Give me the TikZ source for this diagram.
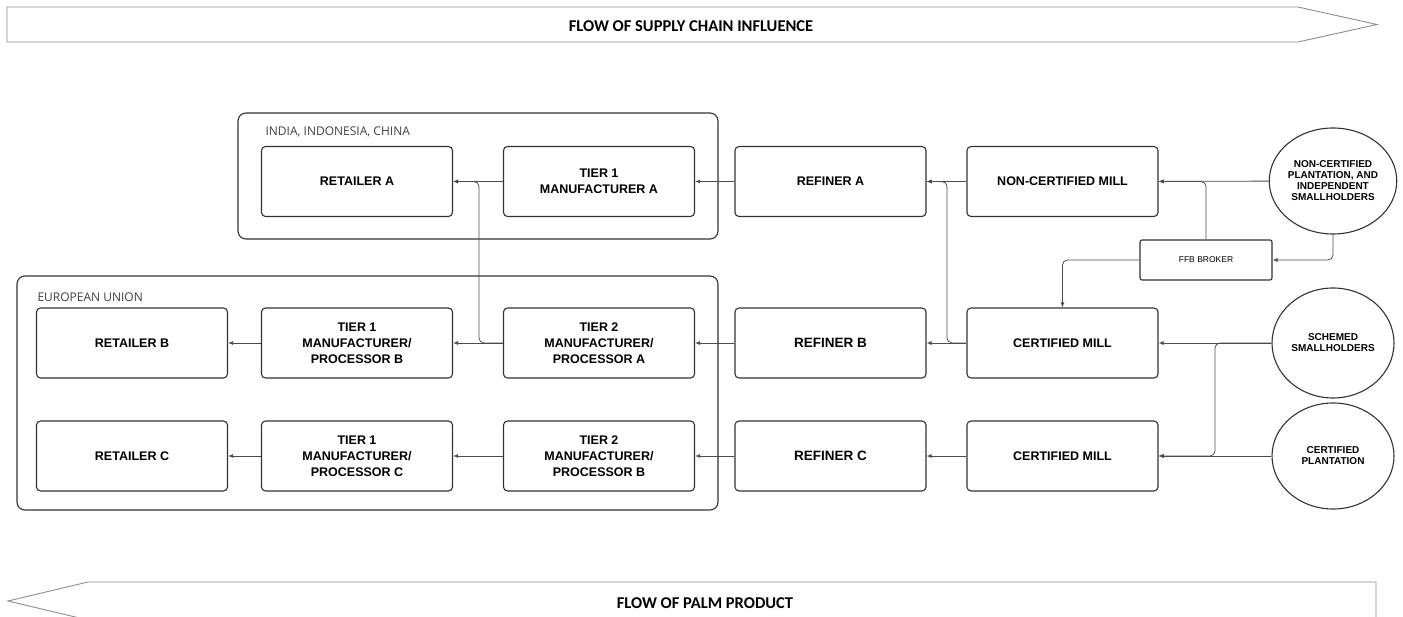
\documentclass[tikz,border=0pt]{standalone}
\usepackage{fontspec}
\setmainfont{Liberation Sans}
\newfontfamily\labelfont{Open Sans}
\newfontfamily\bannerfont{Carlito}
\usetikzlibrary{arrows.meta,shapes.geometric}

\tikzset{
  stage/.style={draw=black!80, line width=1.1pt, rounded corners=4pt,
    minimum width=191pt, minimum height=70pt, align=center,
    font=\fontsize{12.5}{16}\selectfont\bfseries},
  source/.style={ellipse, draw=black!80, line width=1.1pt,
    minimum width=122pt, align=center, inner sep=0pt,
    font=\fontsize{10}{11}\selectfont\bfseries},
  region/.style={draw=black!80, line width=1.1pt, rounded corners=8pt},
  flow/.style={draw=black!70, line width=0.8pt, rounded corners=5pt,
    -{Latex[length=5pt,width=4pt]}},
  banner/.style={draw=black!45, line width=0.9pt},
}

\begin{document}
\begin{tikzpicture}[x=1pt,y=-1pt]
    \useasboundingbox (0,0) rectangle (1403,617);
    \clip (0,0) rectangle (1403,617);

    % banners
    \draw[banner] (7,7) -- (1298,7) -- (1377,24.5) -- (1298,42) -- (7,42) -- cycle;
    \node (influence) at (691,26) {\bannerfont\fontsize{16.5}{18}\selectfont\bfseries FLOW OF SUPPLY CHAIN INFLUENCE};
    \draw[banner] (1376,582) -- (88,582) -- (8,601) -- (88,620) -- (1376,620) -- cycle;
    \node (product) at (705,603) {\bannerfont\fontsize{16.5}{18}\selectfont\bfseries FLOW OF PALM PRODUCT};

    % regions
    \draw[region] (238,113) rectangle (718,239);
    \node[anchor=west] (asia) at (262,132) {\labelfont\fontsize{12}{14}\selectfont\color{black!75}INDIA, INDONESIA, CHINA};
    \draw[region] (17,276) rectangle (718,510);
    \node[anchor=west] (eu) at (34,297) {\labelfont\fontsize{12}{14}\selectfont\color{black!75}EUROPEAN UNION};

    % row A
    \node[stage] (retA) at (357,181.5) {RETAILER A};
    \node[stage] (tA) at (599,181.5) {TIER 1\\MANUFACTURER A};
    \node[stage] (refA) at (830.5,181.5) {REFINER A};
    \node[stage] (ncMill) at (1062.5,181.5) {NON-CERTIFIED MILL};

    % row B
    \node[stage] (retB) at (132,343) {RETAILER B};
    \node[stage] (tB) at (357,343) {TIER 1\\MANUFACTURER/\\PROCESSOR B};
    \node[stage] (ttA) at (599,343) {TIER 2\\MANUFACTURER/\\PROCESSOR A};
    \node[stage,font=\fontsize{13.5}{16}\selectfont\bfseries] (refB) at (830.5,343) {REFINER B};
    \node[stage] (cMillB) at (1062.5,343) {CERTIFIED MILL};

    % row C
    \node[stage] (retC) at (132,456) {RETAILER C};
    \node[stage] (tC) at (357,456) {TIER 1\\MANUFACTURER/\\PROCESSOR C};
    \node[stage] (ttB) at (599,456) {TIER 2\\MANUFACTURER/\\PROCESSOR B};
    \node[stage,font=\fontsize{13.5}{16}\selectfont\bfseries] (refC) at (830.5,456) {REFINER C};
    \node[stage] (cMillC) at (1062.5,456) {CERTIFIED MILL};

    % growers
    \node[source,minimum height=106pt] (ncPlant) at (1333,181) {NON-CERTIFIED\\PLANTATION, AND\\INDEPENDENT\\SMALLHOLDERS};
    \node[source,minimum height=110pt] (schemed) at (1333,343) {SCHEMED\\SMALLHOLDERS};
    \node[source,minimum height=106pt] (cPlant) at (1333,456) {CERTIFIED\\PLANTATION};
    \node[draw=black!80, line width=1.1pt, rounded corners=2pt, minimum width=132pt,
      minimum height=40pt, font=\fontsize{8.5}{10}\selectfont] (broker) at (1206,260) {FFB BROKER};

    % junctions
    \coordinate (jA) at (479,343);
    \coordinate (jB) at (947,343);
    \coordinate (jS) at (1215,343);

    % flows
    \draw[flow] (ncPlant) -- (ncMill);
    \draw[flow] (broker.north) |- (ncMill.east);
    \draw[flow] (ncPlant.south) |- (broker.east);
    \draw[flow] (broker.west) -| (cMillB.north);
    \draw[flow] (ncMill) -- (refA);
    \draw[flow] (refA) -- (tA);
    \draw[flow] (tA) -- (retA);

    \draw[flow] (schemed) -- (cMillB);
    \draw[flow] (cMillB) -- (refB);
    \draw[flow] (cMillB.west) -- (jB) |- (refA.east);
    \draw[flow] (refB) -- (ttA);
    \draw[flow] (ttA) -- (tB);
    \draw[flow] (ttA.west) -- (jA) |- (retA.east);
    \draw[flow] (tB) -- (retB);

    \draw[flow] (schemed.west) -- (jS) |- (cMillC.east);
    \draw[flow] (cPlant) -- (cMillC);
    \draw[flow] (cMillC) -- (refC);
    \draw[flow] (refC) -- (ttB);
    \draw[flow] (ttB) -- (tC);
    \draw[flow] (tC) -- (retC);
  \end{tikzpicture}
\end{document}
